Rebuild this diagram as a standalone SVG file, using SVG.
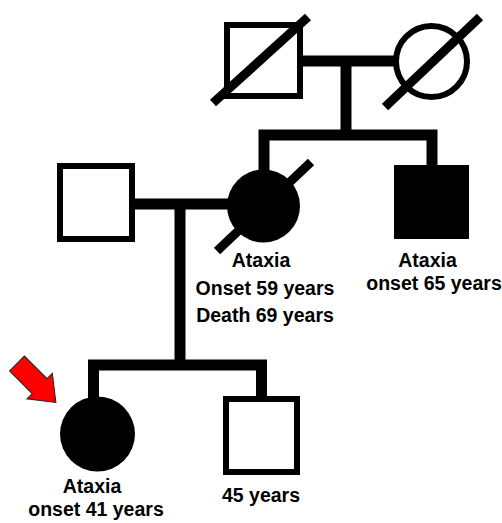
<svg xmlns="http://www.w3.org/2000/svg" width="502" height="523" viewBox="0 0 502 523">
<style>
.open{fill:#fff;stroke:#000;stroke-width:6}
.aff{fill:#000}
.conn{fill:none;stroke:#000;stroke-width:11;stroke-linejoin:miter}
.slash{stroke:#000;stroke-width:9}
.lbl{font-family:"Liberation Sans",Arial,sans-serif;font-weight:bold;font-size:19.5px;fill:#000;text-anchor:middle}
</style>
<rect width="502" height="523" fill="#fff"/>
<g id="connectors">
<path class="conn" d="M300 61 H396"/>
<path class="conn" d="M346 61 V135"/>
<path class="conn" d="M264 172 V135 H432 V166"/>
<path class="conn" d="M132 204 H230"/>
<path class="conn" d="M180 204 V365"/>
<path class="conn" d="M93.5 399 V365 H261.5 V399"/>
</g>
<g id="grandfather">
<rect class="open" x="227" y="25" width="73" height="71"/>
<line class="slash" x1="213" y1="103" x2="308" y2="17"/>
</g>
<g id="grandmother">
<circle class="open" cx="431.5" cy="61.5" r="35.5"/>
<line class="slash" x1="385" y1="107" x2="480" y2="17"/>
</g>
<g id="father">
<rect class="open" x="60" y="166" width="72" height="73"/>
</g>
<g id="mother">
<circle class="aff" cx="263.5" cy="206" r="36.5"/>
<line class="slash" x1="217" y1="251" x2="311" y2="162"/>
<text class="lbl" x="261" y="267">Ataxia</text>
<text class="lbl" x="265" y="295">Onset 59 years</text>
<text class="lbl" x="265" y="322">Death 69 years</text>
</g>
<g id="uncle">
<rect class="aff" x="394" y="165" width="75" height="74"/>
<text class="lbl" x="427.5" y="266.5">Ataxia</text>
<text class="lbl" x="434" y="289.5">onset 65 years</text>
</g>
<g id="proband">
<circle class="aff" cx="97.5" cy="434" r="37.5"/>
<text class="lbl" x="92" y="493">Ataxia</text>
<text class="lbl" x="96" y="516">onset 41 years</text>
</g>
<g id="brother">
<rect class="open" x="226" y="399" width="71" height="73"/>
<text class="lbl" x="261" y="502">45 years</text>
</g>
<g id="proband-arrow">
<polygon transform="translate(17 363.5) rotate(45)" points="0,-10.5 32,-10.5 32,-18 55,0 32,18 32,10.5 0,10.5" fill="#ff0000" stroke="#222" stroke-width="1"/>
</g>
</svg>
